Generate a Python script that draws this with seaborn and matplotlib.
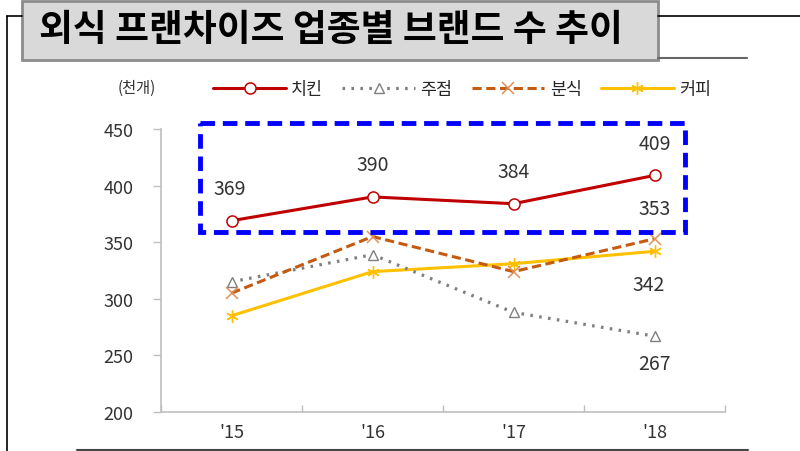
import matplotlib
matplotlib.use("Agg")
import matplotlib.pyplot as plt
import matplotlib.patches as mpatches
import seaborn as sns
import numpy as np
import pandas as pd

years = ["'15", "'16", "'17", "'18"]
chicken = [369, 390, 384, 409]
pub = [315, 339, 288, 267]
snack = [305, 355, 324, 353]
coffee = [285, 324, 331, 342]

sns.set_theme(style="white")
plt.rcParams["font.family"] = ["Noto Sans CJK KR", "DejaVu Sans"]

fig = plt.figure(figsize=(8, 4.52), dpi=100)

# page decoration layer (pixel coords)
deco = fig.add_axes([0, 0, 1, 1], zorder=5)
deco.set_xlim(0, 800)
deco.set_ylim(452, 0)
deco.axis("off")
deco.patch.set_alpha(0)
deco.plot([7, 7], [17, 452], color="black", lw=1.2)
deco.plot([7, 22], [17, 17], color="black", lw=1.2)
deco.plot([658, 800], [17, 17], color="black", lw=1.2)
deco.plot([658, 747], [59, 59], color="#666666", lw=1.5)
deco.plot([77, 748], [451, 451], color="#444444", lw=1.5)
deco.add_patch(mpatches.Rectangle((22, 2), 636, 59, facecolor="#D9D9D9",
                                  edgecolor="#8C8C8C", lw=2))
deco.text(331, 31, "외식 프랜차이즈 업종별 브랜드 수 추이", ha="center", va="center",
          fontsize=26.5, fontweight="bold", color="black")
deco.text(137, 88, "(천개)", ha="center", va="center", fontsize=11, color="#333333")
deco.add_patch(mpatches.Rectangle((200, 124), 485, 109, facecolor="none",
                                  edgecolor="#0000FF", lw=3.5, linestyle=(0, (3, 1.6))))

ax = fig.add_axes([161 / 800, 1 - 413 / 452, 564 / 800, 283 / 452])
x = np.arange(len(years))

sns.lineplot(x=x, y=coffee, ax=ax, color="#FFC000", lw=2.2, marker=(6, 2, 0),
             markersize=9, markeredgecolor="#FFC000", markeredgewidth=1, label="커피")
sns.lineplot(x=x, y=pub, ax=ax, color="#7F7F7F", lw=2.3, linestyle=(0, (0.8, 2)),
             marker="^", markersize=7.5, markerfacecolor="white",
             markeredgecolor="#7F7F7F", markeredgewidth=1, label="주점")
sns.lineplot(x=x, y=snack, ax=ax, color="#C55A11", lw=2.2, linestyle=(0, (3, 1.5)),
             marker="x", markersize=8.5, markeredgecolor="#E0915A",
             markeredgewidth=1.1, label="분식")
sns.lineplot(x=x, y=chicken, ax=ax, color="#C00000", lw=2.2, marker="o",
             markersize=8, markerfacecolor="white", markeredgecolor="#C00000",
             markeredgewidth=1.1, label="치킨")

ax.set_xlim(-0.5, 3.5)
ax.set_ylim(200, 450)
ax.set_yticks(range(200, 451, 50))
ax.set_xticks(x)
ax.set_xticklabels(years)
ax.set_xticks(np.arange(-0.5, 3.6, 1), minor=True)
ax.tick_params(axis="x", which="major", length=0, pad=8, labelsize=13, labelcolor="#333333")
ax.tick_params(axis="x", which="minor", length=5, color="#BFBFBF", direction="in")
ax.tick_params(axis="y", length=6, color="#BFBFBF", width=1, labelsize=13,
               labelcolor="#333333", pad=14)
ax.tick_params(axis="y", which="major", left=True)
ax.tick_params(axis="x", which="minor", bottom=True)
for s in ["top", "right"]:
    ax.spines[s].set_visible(False)
for s in ["left", "bottom"]:
    ax.spines[s].set_color("#BFBFBF")
    ax.spines[s].set_linewidth(1.2)
ax.set_xlabel("")
ax.set_ylabel("")
ax.grid(False)

lab_kw = dict(textcoords="offset points", ha="center", va="center",
              fontsize=14, color="#333333")
for i, v in enumerate(chicken):
    ax.annotate(f"{v}", (i, v), xytext=(-1 if i == 0 else 0, 23), **lab_kw)
ax.annotate(f"{snack[3]}", (3, snack[3]), xytext=(0, 22), **lab_kw)
ax.annotate(f"{coffee[3]}", (3, coffee[3]), xytext=(-4, -24), **lab_kw)
ax.annotate(f"{pub[3]}", (3, pub[3]), xytext=(0, -20), **lab_kw)

handles, labels = ax.get_legend_handles_labels()
order = [labels.index(n) for n in ["치킨", "주점", "분식", "커피"]]
ax.legend([handles[i] for i in order], [labels[i] for i in order], ncol=4,
          loc="center", bbox_to_anchor=(462 / 800, 1 - 90 / 452),
          bbox_transform=fig.transFigure, frameon=False, fontsize=12.5,
          handlelength=4.2, handletextpad=0.3, columnspacing=1.1)

fig.savefig("out.png", dpi=100)
